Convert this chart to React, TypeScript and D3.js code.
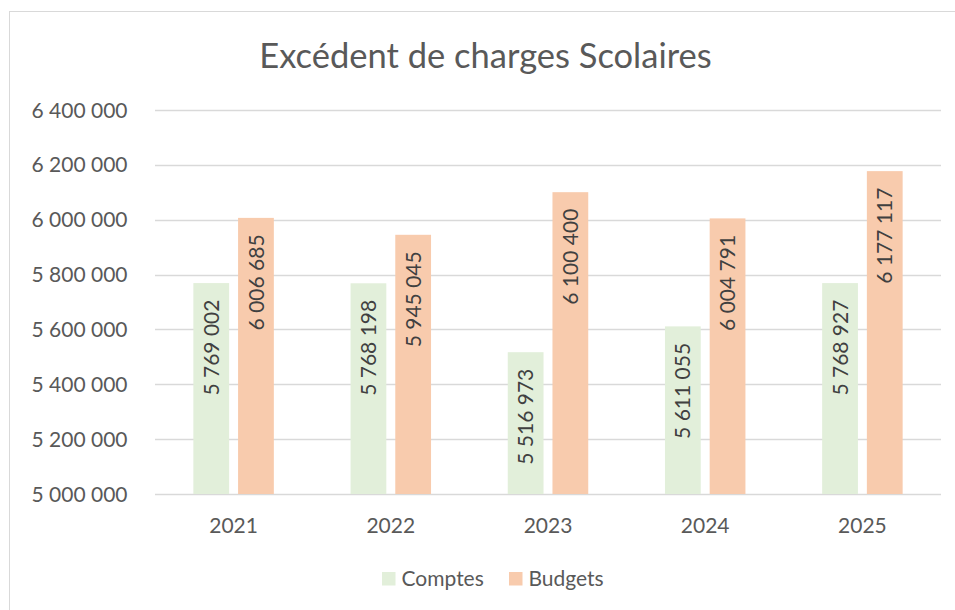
import React from "react";
import * as d3 from "d3";

// values
const years = ["2021", "2022", "2023", "2024", "2025"];
const seriesNames = ["Comptes", "Budgets"];
const comptes = [5769002, 5768198, 5516973, 5611055, 5768927];
const budgets = [6006685, 5945045, 6100400, 6004791, 6177117];
const yTicks = [5000000, 5200000, 5400000, 5600000, 5800000, 6000000, 6200000, 6400000];

const width = 955;
const height = 610;
const plot = { left: 155, right: 941, top: 110, bottom: 494 };

const colors = { Comptes: "#E2EFDA", Budgets: "#F8CBAD" };
const textColor = "#595959";
const labelColor = "#404040";
const gridColor = "#D9D9D9";
const font = "Lato, 'Open Sans', sans-serif";

const locale = d3.formatLocale({ decimal: ",", thousands: " ", grouping: [3], currency: ["", " €"] });
const fmt = locale.format(",d");

function App() {
  const x0 = d3.scaleBand().domain(years).range([plot.left, plot.right]).padding(0);
  const groupW = x0.bandwidth() * 0.512;
  const x1 = d3.scaleBand().domain(seriesNames).range([0, groupW]).paddingInner(0.2);
  const y = d3.scaleLinear().domain([5000000, 6400000]).range([plot.bottom, plot.top]);

  const rows = years.map((yr, i) => ({ year: yr, values: [comptes[i], budgets[i]] }));
  const capH = 21 * 0.72;

  return (
    <svg width={width} height={height} style={{ position: "absolute", left: 0, top: 0, background: "#fff" }}>
      <rect x={9.5} y={11.5} width={1000} height={700} fill="#fff" stroke={gridColor} />
      <text x={485.5} y={68} textAnchor="middle" fill={textColor} style={{ fontFamily: font, fontSize: "34.5px" }}>
        Excédent de charges Scolaires
      </text>

      {/* grid + y labels */}
      {yTicks.map((t) => (
        <g key={t}>
          <line x1={plot.left} x2={plot.right} y1={Math.round(y(t)) + 0.5} y2={Math.round(y(t)) + 0.5} stroke={gridColor} strokeWidth={1.3} />
          <text x={127.5} y={y(t) + 7.5} textAnchor="end" fill={textColor} style={{ fontFamily: font, fontSize: "21px" }}>
            {fmt(t)}
          </text>
        </g>
      ))}

      {/* bars */}
      {rows.map((r) => {
        const gx = x0(r.year)! + (x0.bandwidth() - groupW) / 2;
        return (
          <g key={r.year} transform={`translate(${gx},0)`}>
            {r.values.map((v, j) => {
              const name = seriesNames[j];
              const bx = x1(name)!;
              const by = y(v);
              const cx = bx + x1.bandwidth() / 2;
              return (
                <g key={name}>
                  <rect x={bx} y={by} width={x1.bandwidth()} height={y(5000000) - by} fill={colors[name as keyof typeof colors]} />
                  <text
                    transform={`translate(${cx + capH / 2},${by + 16.5}) rotate(-90)`}
                    textAnchor="end"
                    fill={labelColor}
                    style={{ fontFamily: font, fontSize: "21px" }}
                  >
                    {fmt(v)}
                  </text>
                </g>
              );
            })}
          </g>
        );
      })}

      {/* x labels */}
      {years.map((yr) => (
        <text key={yr} x={x0(yr)! + x0.bandwidth() / 2} y={533} textAnchor="middle" fill={textColor} style={{ fontFamily: font, fontSize: "21px" }}>
          {yr}
        </text>
      ))}

      {/* legend */}
      {seriesNames.map((name, i) => {
        const lx = [382, 509][i];
        return (
          <g key={name}>
            <rect x={lx} y={572} width={13.5} height={13.5} fill={colors[name as keyof typeof colors]} />
            <text x={lx + 19.5} y={586} fill={textColor} style={{ fontFamily: font, fontSize: "21px" }}>
              {name}
            </text>
          </g>
        );
      })}
    </svg>
  );
}

export default App;
